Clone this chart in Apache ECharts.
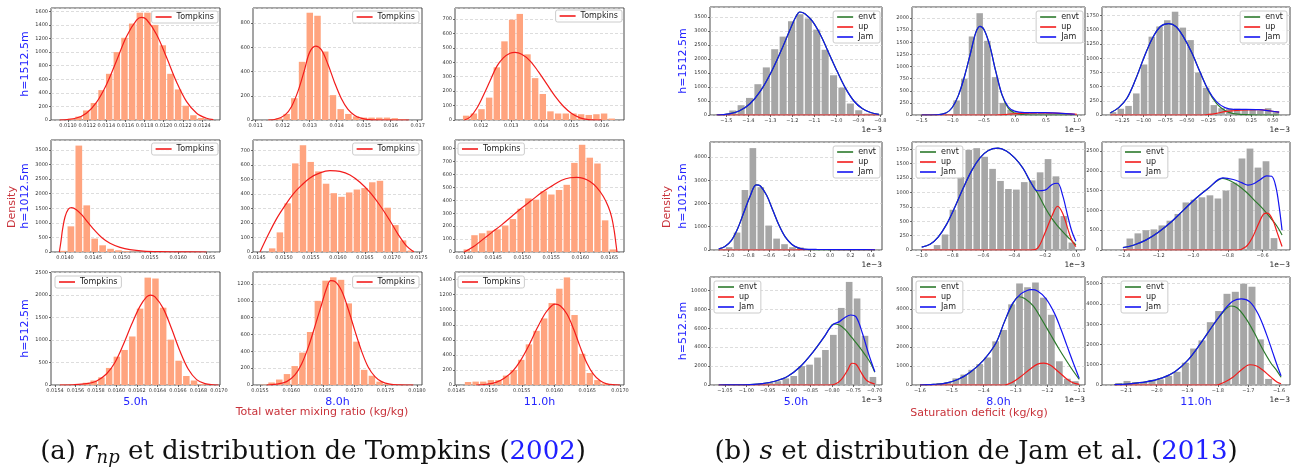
<!DOCTYPE html>
<html>
<head>
<meta charset="utf-8">
<script src="https://cdn.jsdelivr.net/npm/echarts@6/dist/echarts.min.js"></script>
<style>
html, body { margin: 0; padding: 0; background: #fff; }
#main { width: 1298px; height: 472px; }
</style>
</head>
<body>
<div id="main"></div>
<script>
// ---------- (a) total water mixing ratio (kg/kg), Tompkins fit ----------
// histogram: first bin edge, bin width, counts ; curve: [x, density]
var a1Start = 0.01091, a1Width = 0.00008;
var a1Counts = [5, 20, 50, 140, 250, 440, 680, 1000, 1210, 1420, 1580, 1580, 1400, 1100, 680, 450, 210, 70, 30, 5];
var a1Tompkins = [[0.010913,0],[0.011087,30],[0.011192,100],[0.011297,260],[0.011401,520],[0.011506,870],[0.011611,1230],[0.011716,1470],[0.011768,1510],[0.011820,1480],[0.011925,1260],[0.012030,920],[0.012134,560],[0.012239,270],[0.012344,100],[0.012448,25],[0.012518,5]];
var a1Ticks = [0.0110, 0.0112, 0.0114, 0.0116, 0.0118, 0.0120, 0.0122, 0.0124];

var a2Start = 0.01143, a2Width = 0.000286;
var a2Counts = [3, 15, 50, 180, 480, 885, 860, 565, 205, 90, 50, 30, 20, 20, 20, 20, 15, 5];
var a2Tompkins = [[0.011466,0],[0.011773,8],[0.012080,40],[0.012325,110],[0.012571,240],[0.012816,420],[0.013000,560],[0.013221,610],[0.013429,580],[0.013675,460],[0.013920,310],[0.014166,180],[0.014411,90],[0.014656,40],[0.014902,15],[0.015209,3],[0.015699,0],[0.016681,0]];
var a2Ticks = [0.011, 0.012, 0.013, 0.014, 0.015, 0.016, 0.017];

var a3Start = 0.011381, a3Width = 0.000254;
var a3Counts = [30, 45, 75, 155, 365, 545, 695, 735, 455, 290, 180, 60, 45, 45, 45, 40, 35, 40, 45, 10];
var a3Tompkins = [[0.011448,0],[0.011635,20],[0.011856,80],[0.012077,170],[0.012298,270],[0.012519,370],[0.012740,430],[0.012961,462],[0.013127,468],[0.013348,455],[0.013624,410],[0.013901,335],[0.014177,250],[0.014453,165],[0.014729,95],[0.015006,45],[0.015282,15],[0.015558,3],[0.016000,0]];
var a3Ticks = [0.012, 0.013, 0.014, 0.015, 0.016];

var a4Start = 0.013894, a4Width = 0.00014;
var a4Counts = [40, 880, 3650, 1600, 460, 230, 110, 60, 30, 10, 5, 3, 2, 1, 1, 1, 0, 0, 0, 1];
var a4Tompkins = [[0.013900,0],[0.013924,300],[0.013959,800],[0.014000,1200],[0.014059,1470],[0.014118,1520],[0.014194,1460],[0.014294,1280],[0.014412,1000],[0.014529,730],[0.014647,500],[0.014794,300],[0.014971,160],[0.015147,80],[0.015382,30],[0.015676,10],[0.016029,3],[0.016500,0]];
var a4Ticks = [0.0140, 0.0145, 0.0150, 0.0155, 0.0160, 0.0165];

var a5Start = 0.014710, a5Width = 0.0001426;
var a5Counts = [25, 135, 335, 610, 735, 620, 555, 470, 405, 380, 410, 430, 440, 480, 490, 305, 185, 80, 10];
var a5Tompkins = [[0.014556,0],[0.014710,120],[0.014864,230],[0.015019,320],[0.015173,400],[0.015327,460],[0.015481,510],[0.015667,545],[0.015852,560],[0.016037,555],[0.016222,530],[0.016407,480],[0.016593,410],[0.016778,320],[0.016963,215],[0.017117,120],[0.017272,40],[0.017407,0]];
var a5Ticks = [0.0145, 0.0150, 0.0155, 0.0160, 0.0165, 0.0170, 0.0175];

var a6Start = 0.013977, a6Width = 0.0001325;
var a6Counts = [20, 130, 145, 165, 175, 205, 255, 335, 415, 405, 470, 445, 480, 520, 690, 830, 730, 685, 245, 20];
var a6Tompkins = [[0.014000,0],[0.014155,40],[0.014299,90],[0.014471,150],[0.014644,210],[0.014816,275],[0.014989,340],[0.015161,400],[0.015333,460],[0.015506,510],[0.015678,555],[0.015822,575],[0.015937,578],[0.016052,570],[0.016167,545],[0.016282,500],[0.016397,430],[0.016483,350],[0.016540,270],[0.016586,160],[0.016615,60],[0.016632,0]];
var a6Ticks = [0.0140, 0.0145, 0.0150, 0.0155, 0.0160, 0.0165];

var a7Start = 0.015439, a7Width = 0.0000753;
var a7Counts = [10, 10, 15, 50, 100, 170, 380, 630, 780, 1080, 1700, 2390, 2370, 1720, 1010, 540, 200, 100, 20, 10];
var a7Tompkins = [[0.015449,0],[0.015579,5],[0.015709,30],[0.015807,90],[0.015904,250],[0.015985,500],[0.016067,900],[0.016148,1350],[0.016229,1750],[0.016294,1960],[0.016333,2000],[0.016376,1960],[0.016457,1700],[0.016538,1250],[0.016620,750],[0.016701,350],[0.016782,120],[0.016863,30],[0.016945,5],[0.016995,0]];
var a7Ticks = [0.0154, 0.0156, 0.0158, 0.0160, 0.0162, 0.0164, 0.0166, 0.0168, 0.0170];

var a8Start = 0.0155, a8Width = 0.0001229;
var a8Counts = [5, 30, 65, 130, 225, 385, 630, 1000, 1240, 1280, 1250, 970, 515, 180, 110, 40, 10, 5, 3, 2];
var a8Tompkins = [[0.015606,0],[0.015765,10],[0.015925,40],[0.016057,120],[0.016163,250],[0.016270,450],[0.016376,700],[0.016482,960],[0.016561,1150],[0.016625,1240],[0.016694,1230],[0.016800,1120],[0.016906,900],[0.017013,640],[0.017119,400],[0.017225,210],[0.017331,100],[0.017437,40],[0.017570,10],[0.017729,2],[0.017941,0]];
var a8Ticks = [0.0155, 0.0160, 0.0165, 0.0170, 0.0175, 0.0180];

var a9Start = 0.014621, a9Width = 0.0001162;
var a9Counts = [40, 45, 45, 65, 65, 125, 200, 335, 540, 720, 885, 1090, 1280, 1430, 930, 415, 160, 65, 20, 5];
var a9Tompkins = [[0.014803,0],[0.014955,10],[0.015106,35],[0.015232,90],[0.015359,180],[0.015485,330],[0.015611,530],[0.015737,760],[0.015864,960],[0.015965,1060],[0.016015,1075],[0.016091,1050],[0.016192,940],[0.016293,740],[0.016394,500],[0.016495,290],[0.016596,140],[0.016697,55],[0.016798,15],[0.016924,2],[0.017000,0]];
var a9Ticks = [0.0145, 0.0150, 0.0155, 0.0160, 0.0165, 0.0170];

// ---------- (b) saturation deficit (1e-3 kg/kg), Jam et al. mixture ----------
var b1Start = -1.528, b1Width = 0.0382;
var b1Counts = [20, 160, 350, 610, 1100, 1700, 2350, 2800, 3350, 3600, 3450, 3050, 2330, 1420, 980, 410, 170, 50, 10];
var b1Jam = [[-1.5435,0],[-1.4868,40],[-1.4395,150],[-1.3923,400],[-1.3450,850],[-1.2977,1500],[-1.2505,2300],[-1.2127,3000],[-1.1843,3500],[-1.1654,3680],[-1.1427,3620],[-1.1087,3350],[-1.0709,2850],[-1.0331,2200],[-0.9953,1550],[-0.9575,950],[-0.9197,500],[-0.8819,230],[-0.8440,90],[-0.8062,20]];
var b1Envt = b1Jam;
var b1Up = [[-1.5435,0],[-0.8062,0]];
var b1Ticks = [-1.5, -1.4, -1.3, -1.2, -1.1, -1.0, -0.9, -0.8];

var b2Start = -1.0, b2Width = 0.124;
var b2Counts = [300, 750, 1620, 2100, 1530, 780, 250, 110, 60, 50, 45, 40, 35, 25, 20, 10];
var b2Jam = [[-1.5,0],[-1.245,5],[-1.111,40],[-1.011,150],[-0.910,400],[-0.810,800],[-0.709,1300],[-0.629,1700],[-0.562,1830],[-0.495,1760],[-0.408,1450],[-0.307,900],[-0.206,420],[-0.106,170],[-0.005,80],[0.162,50],[0.430,48],[0.698,40],[0.967,15]];
var b2Envt = [[-1.5,0],[-1.245,5],[-1.111,40],[-1.011,150],[-0.910,400],[-0.810,800],[-0.709,1300],[-0.629,1700],[-0.562,1830],[-0.495,1760],[-0.408,1450],[-0.307,900],[-0.206,410],[-0.106,140],[-0.005,40],[0.162,5],[0.430,0],[0.967,0]];
var b2Up = [[-1.5,0],[-0.307,0],[-0.106,15],[0.095,35],[0.363,45],[0.631,40],[0.832,30],[1.0,15]];
var b2Ticks = [-1.5, -1.0, -0.5, 0.0, 0.5, 1.0];

var b3Start = -1.40, b3Width = 0.09;
var b3Counts = [50, 110, 160, 380, 890, 1380, 1560, 1670, 1820, 1540, 1320, 750, 480, 175, 120, 110, 110, 90, 100, 80, 120, 60];
var b3Jam = [[-1.385,40],[-1.289,130],[-1.192,300],[-1.095,620],[-0.999,1000],[-0.902,1340],[-0.805,1560],[-0.708,1610],[-0.626,1560],[-0.539,1380],[-0.442,1100],[-0.346,760],[-0.249,440],[-0.152,230],[-0.056,130],[0.041,100],[0.186,100],[0.331,95],[0.476,70],[0.573,50]];
var b3Envt = [[-1.385,40],[-1.289,130],[-1.192,300],[-1.095,620],[-0.999,1000],[-0.902,1340],[-0.805,1560],[-0.708,1610],[-0.626,1560],[-0.539,1380],[-0.442,1100],[-0.346,760],[-0.249,430],[-0.152,200],[-0.056,80],[0.041,25],[0.186,5],[0.331,0],[0.573,0]];
var b3Up = [[-1.385,0],[-0.346,0],[-0.249,10],[-0.152,30],[-0.056,60],[0.041,75],[0.186,90],[0.331,95],[0.476,70],[0.573,50]];
var b3Ticks = [-1.25, -1.0, -0.75, -0.5, -0.25, 0.0, 0.25, 0.5];

var b4Start = -1.031, b4Width = 0.0777;
var b4Counts = [120, 750, 2580, 4380, 2700, 1050, 490, 250, 120, 110, 20, 10, 10, 5, 5, 5, 5, 5, 5];
var b4Jam = [[-1.094,50],[-1.033,150],[-0.971,400],[-0.910,900],[-0.849,1600],[-0.787,2300],[-0.726,2800],[-0.685,2750],[-0.624,2350],[-0.562,1700],[-0.501,1050],[-0.440,550],[-0.378,250],[-0.317,100],[-0.256,40],[-0.133,25],[0.072,20],[0.276,15],[0.440,10]];
var b4Envt = [[-1.094,50],[-1.033,150],[-0.971,400],[-0.910,900],[-0.849,1600],[-0.787,2300],[-0.726,2800],[-0.685,2750],[-0.624,2350],[-0.562,1700],[-0.501,1050],[-0.440,550],[-0.378,250],[-0.317,90],[-0.256,25],[-0.133,3],[0.072,0],[0.440,0]];
var b4Up = [[-1.094,0],[-0.378,0],[-0.256,15],[-0.133,22],[0.072,20],[0.276,15],[0.440,10]];
var b4Ticks = [-1.0, -0.8, -0.6, -0.4, -0.2, 0.0, 0.2, 0.4];

var b5Start = -0.926, b5Width = 0.0514;
var b5Counts = [85, 270, 700, 1270, 1740, 1770, 1620, 1410, 1200, 1060, 1050, 1180, 1210, 1350, 1580, 1280, 590, 130];
var b5Jam = [[-1.0,50],[-0.946,100],[-0.892,230],[-0.838,450],[-0.784,750],[-0.730,1080],[-0.676,1380],[-0.622,1600],[-0.568,1730],[-0.505,1770],[-0.451,1720],[-0.397,1600],[-0.343,1420],[-0.297,1200],[-0.249,1030],[-0.200,1040],[-0.154,1140],[-0.119,1160],[-0.086,950],[-0.054,600],[-0.027,330],[0.0,150]];
var b5Envt = [[-1.0,50],[-0.946,100],[-0.892,230],[-0.838,450],[-0.784,750],[-0.730,1080],[-0.676,1380],[-0.622,1600],[-0.568,1730],[-0.505,1770],[-0.451,1720],[-0.397,1600],[-0.343,1420],[-0.297,1190],[-0.249,990],[-0.200,740],[-0.154,540],[-0.119,420],[-0.086,320],[-0.054,230],[-0.027,160],[0.0,90]];
var b5Up = [[-1.0,0],[-0.297,0],[-0.249,30],[-0.200,300],[-0.154,600],[-0.119,760],[-0.086,640],[-0.054,380],[-0.027,170],[0.0,60]];
var b5Ticks = [-1.0, -0.8, -0.6, -0.4, -0.2, 0.0];

var b6Start = -1.39, b6Width = 0.0463;
var b6Counts = [290, 420, 500, 520, 620, 740, 910, 1200, 1270, 1330, 1380, 1300, 1500, 1700, 2310, 2560, 2080, 2240, 300];
var b6Jam = [[-1.407,60],[-1.347,120],[-1.275,250],[-1.202,450],[-1.130,700],[-1.058,1000],[-0.986,1300],[-0.913,1560],[-0.829,1820],[-0.769,1780],[-0.720,1700],[-0.684,1640],[-0.648,1680],[-0.612,1780],[-0.576,1870],[-0.547,1860],[-0.523,1600],[-0.504,1100],[-0.487,500]];
var b6Envt = [[-1.407,60],[-1.347,120],[-1.275,250],[-1.202,450],[-1.130,700],[-1.058,1000],[-0.986,1300],[-0.913,1560],[-0.829,1810],[-0.793,1760],[-0.745,1640],[-0.696,1470],[-0.648,1260],[-0.600,1050],[-0.552,800],[-0.516,600],[-0.487,380]];
var b6Up = [[-1.407,0],[-0.745,0],[-0.696,80],[-0.660,300],[-0.624,650],[-0.595,900],[-0.571,930],[-0.540,750],[-0.516,450],[-0.487,90]];
var b6Ticks = [-1.4, -1.2, -1.0, -0.8, -0.6];

var b7Start = -1.065, b7Width = 0.0185;
var b7Counts = [20, 20, 20, 30, 50, 100, 250, 400, 700, 950, 2000, 2150, 2900, 3700, 5300, 8150, 10900, 9150, 5200, 850];
var b7Jam = [[-1.0646,0],[-1.0305,10],[-0.9916,50],[-0.9625,150],[-0.9333,400],[-0.9041,900],[-0.8749,1900],[-0.8457,3400],[-0.8165,5200],[-0.8068,5900],[-0.7971,6400],[-0.7825,6700],[-0.7679,7200],[-0.7562,7400],[-0.7436,7200],[-0.7290,5500],[-0.7144,3300],[-0.6998,1400]];
var b7Envt = [[-1.0646,0],[-1.0305,10],[-0.9916,50],[-0.9625,150],[-0.9333,400],[-0.9041,900],[-0.8749,1900],[-0.8457,3400],[-0.8165,5200],[-0.8068,5900],[-0.7971,6450],[-0.7825,6350],[-0.7679,5800],[-0.7533,5000],[-0.7387,4200],[-0.7241,3300],[-0.7095,2300],[-0.6998,1350]];
var b7Up = [[-1.0646,0],[-0.8068,0],[-0.7922,100],[-0.7776,600],[-0.7630,1600],[-0.7533,2300],[-0.7436,2200],[-0.7339,1500],[-0.7193,500],[-0.6998,100]];
var b7Ticks = [-1.05, -1.0, -0.95, -0.9, -0.85, -0.8, -0.75, -0.7];

var b8Start = -1.60, b8Width = 0.025;
var b8Counts = [10, 30, 100, 150, 350, 550, 800, 1100, 1450, 2300, 2900, 4250, 5350, 5150, 5400, 4600, 3700, 1250, 330, 200];
var b8Jam = [[-1.6,0],[-1.5581,30],[-1.5188,100],[-1.4796,300],[-1.4403,700],[-1.4010,1300],[-1.3618,2200],[-1.3356,3300],[-1.3094,4300],[-1.2833,4800],[-1.2636,4980],[-1.2505,5020],[-1.2309,4950],[-1.2047,4550],[-1.1785,3800],[-1.1589,3000],[-1.1393,2100],[-1.1196,1200],[-1.1000,350]];
var b8Envt = [[-1.6,0],[-1.5581,30],[-1.5188,100],[-1.4796,300],[-1.4403,700],[-1.4010,1300],[-1.3618,2200],[-1.3356,3300],[-1.3094,4250],[-1.2898,4650],[-1.2702,4550],[-1.2440,4150],[-1.2178,3450],[-1.1916,2700],[-1.1654,1950],[-1.1393,1250],[-1.1196,750],[-1.1000,300]];
var b8Up = [[-1.6,0],[-1.3356,0],[-1.3094,150],[-1.2833,450],[-1.2571,800],[-1.2309,1100],[-1.2113,1150],[-1.1916,1050],[-1.1654,700],[-1.1393,320],[-1.1196,120],[-1.1,30]];
var b8Ticks = [-1.6, -1.5, -1.4, -1.3, -1.2, -1.1];

var b9Start = -2.138, b9Width = 0.02725;
var b9Counts = [100, 200, 140, 150, 250, 280, 450, 650, 1100, 1800, 2200, 3100, 3650, 4500, 4600, 5000, 4850, 2250, 300, 50];
var b9Jam = [[-2.1381,20],[-2.0905,60],[-2.0360,150],[-1.9815,350],[-1.9406,650],[-1.8997,1200],[-1.8589,2000],[-1.8180,2900],[-1.7771,3750],[-1.7499,4150],[-1.7226,4250],[-1.6954,4100],[-1.6681,3500],[-1.6409,2500],[-1.6204,1600],[-1.6068,1000],[-1.5932,450]];
var b9Envt = [[-2.1381,20],[-2.0905,60],[-2.0360,150],[-1.9815,350],[-1.9406,650],[-1.8997,1200],[-1.8589,2000],[-1.8180,2900],[-1.7907,3450],[-1.7567,3900],[-1.7362,3800],[-1.7090,3300],[-1.6817,2600],[-1.6545,1800],[-1.6272,1100],[-1.6068,700],[-1.5932,380]];
var b9Up = [[-2.1381,0],[-1.8044,0],[-1.7771,150],[-1.7499,400],[-1.7226,750],[-1.6954,1000],[-1.6749,950],[-1.6545,750],[-1.6272,400],[-1.6068,150],[-1.5932,60]];
var b9Ticks = [-2.1, -2.0, -1.9, -1.8, -1.7, -1.6];

// ---------- styling / layout ----------
var SALMON = '#ffa47f', GREY = '#a6a6a6';
var RED = '#f21c1c', GREEN = '#2c7a2c', BLUE = '#1414f0';
var LABEL_BLUE = '#2424ff', LABEL_RED = '#c8323a';
var SANS = 'DejaVu Sans';

var A_COLS = [[51, 169], [253, 169], [455, 169]];
var A_ROWS = [[8, 112], [140, 112], [272, 113]];
var B_COLS = [[710, 172], [912, 173], [1102, 188]];
var B_ROWS = [[7, 108], [142, 108], [277, 108]];

function hist(start, width, counts) {
  return counts.map(function (c, i) { return [start + (i + 0.5) * width, c]; });
}

var panels = [
  {k:'a', r:0, c:0, x:[0.010822, 0.012588], ticks:a1Ticks, dec:4, ymax:1649, yint:200, bins:[a1Start, a1Width, a1Counts], curves:[['Tompkins', a1Tompkins]], leg:{right:1080, top:11}},
  {k:'a', r:0, c:1, x:[0.0109, 0.017159], ticks:a2Ticks, dec:3, ymax:924, yint:200, bins:[a2Start, a2Width, a2Counts], curves:[['Tompkins', a2Tompkins]], leg:{right:879, top:11}},
  {k:'a', r:0, c:2, x:[0.011138, 0.016740], ticks:a3Ticks, dec:3, ymax:776, yint:100, bins:[a3Start, a3Width, a3Counts], curves:[['Tompkins', a3Tompkins]], leg:{right:676, top:10}},
  {k:'a', r:1, c:0, x:[0.013753, 0.016736], ticks:a4Ticks, dec:4, ymax:3842, yint:500, bins:[a4Start, a4Width, a4Counts], curves:[['Tompkins', a4Tompkins]], leg:{right:1080, top:143}},
  {k:'a', r:1, c:1, x:[0.014426, 0.017556], ticks:a5Ticks, dec:4, ymax:771, yint:100, bins:[a5Start, a5Width, a5Counts], curves:[['Tompkins', a5Tompkins]], leg:{right:879, top:143}},
  {k:'a', r:1, c:2, x:[0.01384, 0.016753], ticks:a6Ticks, dec:4, ymax:867, yint:100, bins:[a6Start, a6Width, a6Counts], curves:[['Tompkins', a6Tompkins]], leg:{left:458, top:143}},
  {k:'a', r:2, c:0, x:[0.015361, 0.017010], ticks:a7Ticks, dec:4, ymax:2515, yint:500, bins:[a7Start, a7Width, a7Counts], curves:[['Tompkins', a7Tompkins]], leg:{left:55, top:276}},
  {k:'a', r:2, c:1, x:[0.015389, 0.018080], ticks:a8Ticks, dec:4, ymax:1343, yint:200, bins:[a8Start, a8Width, a8Counts], curves:[['Tompkins', a8Tompkins]], leg:{right:879, top:276}},
  {k:'a', r:2, c:2, x:[0.01448, 0.017061], ticks:a9Ticks, dec:4, ymax:1502, yint:200, bins:[a9Start, a9Width, a9Counts], curves:[['Tompkins', a9Tompkins]], leg:{left:458, top:276}},
  {k:'b', r:0, c:0, x:[-1.574, -0.792], ticks:b1Ticks, dec:1, ymax:3858, yint:500, bins:[b1Start, b1Width, b1Counts], curves:[['envt', b1Envt], ['up', b1Up], ['Jam', b1Jam]], leg:{right:418, top:11}},
  {k:'b', r:0, c:1, x:[-1.656, 1.130], ticks:b2Ticks, dec:1, ymax:2228, yint:250, bins:[b2Start, b2Width, b2Counts], curves:[['envt', b2Envt], ['up', b2Up], ['Jam', b2Jam]], leg:{right:215, top:11}},
  {k:'b', r:0, c:2, x:[-1.483, 0.699], ticks:b3Ticks, dec:2, ymax:1903, yint:250, bins:[b3Start, b3Width, b3Counts], curves:[['envt', b3Envt], ['up', b3Up], ['Jam', b3Jam]], leg:{right:11, top:11}},
  {k:'b', r:1, c:0, x:[-1.180, 0.509], ticks:b4Ticks, dec:1, ymax:4643, yint:1000, bins:[b4Start, b4Width, b4Counts], curves:[['envt', b4Envt], ['up', b4Up], ['Jam', b4Jam]], leg:{right:418, top:146}},
  {k:'b', r:1, c:1, x:[-1.063, 0.059], ticks:b5Ticks, dec:1, ymax:1877, yint:250, bins:[b5Start, b5Width, b5Counts], curves:[['envt', b5Envt], ['up', b5Up], ['Jam', b5Jam]], leg:{left:916, top:146}},
  {k:'b', r:1, c:2, x:[-1.528, -0.441], ticks:b6Ticks, dec:1, ymax:2726, yint:500, bins:[b6Start, b6Width, b6Counts], curves:[['envt', b6Envt], ['up', b6Up], ['Jam', b6Jam]], leg:{left:1121, top:146}},
  {k:'b', r:2, c:0, x:[-1.085, -0.683], ticks:b7Ticks, dec:2, ymax:11420, yint:2000, bins:[b7Start, b7Width, b7Counts], curves:[['envt', b7Envt], ['up', b7Up], ['Jam', b7Jam]], leg:{left:714, top:281}},
  {k:'b', r:2, c:1, x:[-1.625, -1.082], ticks:b8Ticks, dec:1, ymax:5690, yint:1000, bins:[b8Start, b8Width, b8Counts], curves:[['envt', b8Envt], ['up', b8Up], ['Jam', b8Jam]], leg:{left:916, top:281}},
  {k:'b', r:2, c:2, x:[-2.179, -1.564], ticks:b9Ticks, dec:1, ymax:5330, yint:1000, bins:[b9Start, b9Width, b9Counts], curves:[['envt', b9Envt], ['up', b9Up], ['Jam', b9Jam]], leg:{left:1121, top:281}}
];

var CURVE_COLOR = {Tompkins: RED, envt: GREEN, up: RED, Jam: BLUE};

var grids = [], xAxes = [], yAxes = [], series = [], legends = [], graphics = [];

panels.forEach(function (p, i) {
  var col = (p.k === 'a' ? A_COLS : B_COLS)[p.c];
  var row = (p.k === 'a' ? A_ROWS : B_ROWS)[p.r];
  grids.push({left: col[0], top: row[0], width: col[1], height: row[1],
    show: true, borderColor: '#4a4a4a', borderWidth: 1, backgroundColor: 'transparent'});
  var dec = p.dec;
  xAxes.push({
    type: 'value', gridIndex: i, min: p.x[0], max: p.x[1],
    axisLine: {show: false, onZero: false},
    axisTick: {show: true, customValues: p.ticks, length: 2, lineStyle: {color: '#444', width: 0.8}},
    axisLabel: {customValues: p.ticks, fontSize: 5, color: '#333', margin: 3, fontFamily: SANS,
      formatter: function (v) { return v.toFixed(dec).replace('-', '\u2212'); }},
    splitLine: {show: false}
  });
  yAxes.push({
    type: 'value', gridIndex: i, min: 0, max: p.ymax, interval: p.yint,
    axisLine: {show: false, onZero: false},
    axisTick: {show: true, length: 2, lineStyle: {color: '#444', width: 0.8}},
    axisLabel: {fontSize: 5, color: '#333', margin: 3, showMaxLabel: false, fontFamily: SANS,
      formatter: function (v) { return String(Math.round(v)); }},
    splitLine: {show: true, lineStyle: {color: '#cfcfcf', width: 0.7, type: [3, 2]}}
  });
  var bw = p.bins[1];
  var barColor = p.k === 'a' ? SALMON : GREY;
  series.push({
    type: 'custom', name: 'hist' + i, xAxisIndex: i, yAxisIndex: i, clip: true, silent: true,
    data: hist(p.bins[0], p.bins[1], p.bins[2]),
    encode: {x: 0, y: 1},
    renderItem: function (params, api) {
      var c = api.value(0), h = api.value(1);
      var p0 = api.coord([c - bw * 0.42, h]);
      var p1 = api.coord([c + bw * 0.42, 0]);
      return {type: 'rect', shape: {x: p0[0], y: p0[1], width: p1[0] - p0[0], height: p1[1] - p0[1]},
        style: {fill: barColor}};
    },
    z: 2
  });
  var names = [];
  p.curves.forEach(function (cv) {
    names.push(cv[0]);
    series.push({
      type: 'line', name: cv[0], xAxisIndex: i, yAxisIndex: i, data: cv[1],
      showSymbol: false, symbol: 'none', smooth: 0.35, silent: true,
      itemStyle: {color: CURVE_COLOR[cv[0]]},
      lineStyle: {color: CURVE_COLOR[cv[0]], width: 1.2}, z: 3
    });
  });
  var leg = {
    data: names, orient: 'vertical', icon: 'rect', itemWidth: 16, itemHeight: 1.6, itemGap: 2,
    textStyle: {fontSize: 8, color: '#222', fontFamily: SANS},
    borderColor: '#cccccc', borderWidth: 1, borderRadius: 2, padding: [2, 4, 2, 4],
    backgroundColor: 'rgba(255,255,255,0.85)', selectedMode: false, z: 10
  };
  for (var key in p.leg) leg[key] = p.leg[key];
  legends.push(leg);
  if (p.k === 'b') {
    graphics.push({type: 'text', x: col[0] + col[1], y: row[0] + row[1] + 15,
      style: {text: '1e\u22123', fill: '#222', font: '7.5px ' + SANS, align: 'right', verticalAlign: 'middle'}});
  }
});

// row labels, column labels, axis titles
function vtext(x, y, txt, color) {
  return {type: 'text', x: x, y: y, rotation: Math.PI / 2,
    style: {text: txt, fill: color, font: '11px ' + SANS, align: 'center', verticalAlign: 'middle'}};
}
function htext(x, y, txt, color, size) {
  return {type: 'text', x: x, y: y,
    style: {text: txt, fill: color, font: size + 'px ' + SANS, align: 'center', verticalAlign: 'middle'}};
}
var rowNames = ['h=1512.5m', 'h=1012.5m', 'h=512.5m'];
var colNames = ['5.0h', '8.0h', '11.0h'];
rowNames.forEach(function (t, r) {
  graphics.push(vtext(25, A_ROWS[r][0] + A_ROWS[r][1] / 2, t, LABEL_BLUE));
  graphics.push(vtext(683, B_ROWS[r][0] + B_ROWS[r][1] / 2, t, LABEL_BLUE));
});
graphics.push(vtext(12, 207, 'Density', LABEL_RED));
graphics.push(vtext(667, 207, 'Density', LABEL_RED));
colNames.forEach(function (t, c) {
  graphics.push(htext(A_COLS[c][0] + A_COLS[c][1] / 2, 402, t, LABEL_BLUE, 11));
  graphics.push(htext(B_COLS[c][0] + B_COLS[c][1] / 2, 402, t, LABEL_BLUE, 11));
});
graphics.push(htext(322, 412, 'Total water mixing ratio (kg/kg)', LABEL_RED, 11));
graphics.push(htext(979, 413, 'Saturation deficit (kg/kg)', LABEL_RED, 11));

// sub-figure captions
var SERIF = 'DejaVu Serif';
var capRich = {
  t: {fontSize: 26, fontFamily: SERIF, fill: '#111'},
  i: {fontSize: 26, fontFamily: SERIF, fontStyle: 'italic', fill: '#111'},
  s: {fontSize: 18, fontFamily: SERIF, fontStyle: 'italic', fill: '#111', padding: [12, 0, 0, 0]},
  c: {fontSize: 26, fontFamily: SERIF, fill: '#2020ff'}
};
graphics.push({type: 'text', x: 313, y: 452,
  style: {text: '{t|(a) }{i|r}{s|np}{t| et distribution de Tompkins (}{c|2002}{t|)}', rich: capRich,
    align: 'center', verticalAlign: 'middle'}});
graphics.push({type: 'text', x: 976, y: 452,
  style: {text: '{t|(b) }{i|s}{t| et distribution de Jam et al. (}{c|2013}{t|)}', rich: capRich,
    align: 'center', verticalAlign: 'middle'}});

var chart = echarts.init(document.getElementById('main'), null, {renderer: 'canvas'});
chart.setOption({
  backgroundColor: '#ffffff',
  animation: false,
  grid: grids,
  xAxis: xAxes,
  yAxis: yAxes,
  legend: legends,
  series: series,
  graphic: graphics
});
</script>
</body>
</html>
